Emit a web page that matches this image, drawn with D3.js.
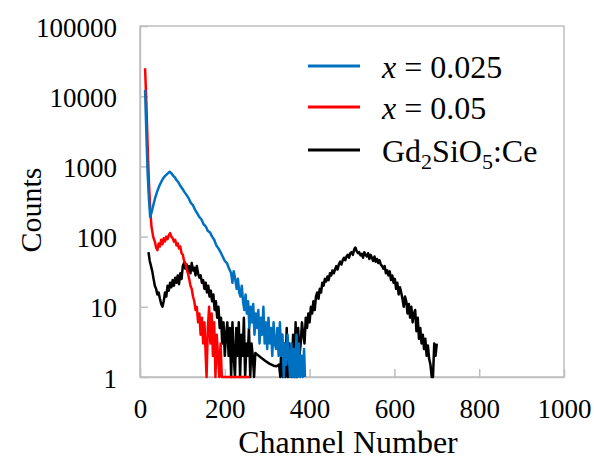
<!DOCTYPE html>
<html>
<head>
<meta charset="utf-8">
<script src="https://cdn.jsdelivr.net/npm/d3@7"></script>
<style>
  html, body { margin: 0; padding: 0; background: #fff; }
  svg text { font-family: "Liberation Serif", "Times New Roman", Times, "DejaVu Serif", serif !important; fill: #000; }
</style>
</head>
<body>
<svg id="chart" width="594" height="459"></svg>
<script>
// ---- data ----
const xTicks = [0, 200, 400, 600, 800, 1000];
const yTicks = [1, 10, 100, 1000, 10000, 100000];
const yTickLabels = ["1", "10", "100", "1000", "10000", "100000"];
const seriesNames = ["x = 0.025", "x = 0.05", "Gd2SiO5:Ce"];

const blueCh = [12,15,18,21,24,28,32,36,40,45,50,55,60,65,70,74,78,82,86,90,95,100,105,110,115,120,125,130,135,140,145,150,155,160,165,170,175,180,185,190,195,200,205,210,215,218,221,225,228,231,234,237,240,243,246,249,252,255,258,261,264,267,270,273,276,279,282,285,288,291,294,297,300,303,306,309,312,315,318,321,324,327,330,333,336,339,342,345,348,351,354,357,360,363,366,369,372,375,378,381,384,387,389];
const blueCounts = [12300,3000,800,350,190,230,290,360,430,520,600,680,740,790,840,800,740,700,640,600,530,480,430,390,350,300,280,240,215,190,175,150,140,120,115,100,90,75,68,60,52,45,42,35,30,22,32,24,18,25,16,14,20,12,9,15,8,12,5,10,6,11,4,8,5,9,3,7,4,10,3,6,2.5,7,3,5,2,6,3,2.5,5,2,6,2,4,1,3,1.5,4,2,1,3,1,2.5,1,4,1,3,1,2,1,2.5,1];

const redCh = [12,15,18,21,24,27,31,35,38,41,44,47,50,53,56,59,62,65,68,71,74,77,80,83,86,89,92,95,98,101,104,107,110,113,116,119,122,125,128,131,134,137,140,143,146,149,152,155,157,160,163,166,169,172,175,178,181,184,187,190,193,196,220,240,259];
const redCounts = [25000,8000,2000,600,250,140,100,85,70,64,80,72,90,78,95,85,100,92,105,112,100,95,85,90,75,80,68,72,58,55,45,42,35,30,25,20,18,14,12,9,10,6,8,4,7,3,6,2,1,5,10,3,8,2,6,1,4,2,1,3,1,1,1,1,1];

const blackCh = [20,23,26,29,32,35,38,41,44,47,50,53,56,59,62,65,68,71,74,77,80,83,86,89,92,95,98,101,104,107,110,113,116,119,122,125,128,131,134,137,140,143,146,149,152,155,158,161,164,167,170,173,176,179,182,185,188,191,194,197,200,203,206,209,212,215,218,221,224,227,230,233,236,239,242,245,248,251,254,257,260,263,266,269,272,276,285,295,305,315,322,328,331,334,337,340,343,346,349,352,355,358,361,364,367,370,373,376,379,382,385,388,391,394,397,400,403,406,409,412,415,418,421,424,427,430,433,436,439,442,445,448,451,454,457,460,463,466,469,472,475,478,481,484,487,490,493,496,499,502,505,508,511,514,517,520,523,526,529,532,535,538,541,544,547,550,553,556,559,562,565,568,571,574,577,580,583,586,589,592,595,598,601,604,607,610,613,616,619,622,625,628,631,634,637,640,643,646,649,652,655,658,661,664,667,670,673,676,679,682,685,688,691,694,697,700];
const blackCounts = [60,45,38,32,25,20,18,15,16,13,11,10,12,16,14,20,17,22,19,24,20,26,22,28,21,30,25,38,42,35,40,32,38,30,42,33,36,28,38,30,26,28,22,24,18,22,16,20,14,17,12,15,9,12,7,10,5,7,3,6,2,4,6,2,5,1,6,2,1,5,2,6,1,4,2,7,1,3,2,5,1,3,2,1,2.2,2.1,1.9,1.7,1.55,1.45,1.42,1.5,1,4,1,3,1,5,1,3,2,1,4,1,6,1,5,2,3,6,4,3,7,5,8,6,10,8,12,9,14,16,13,18,16,22,20,25,23,27,24,30,28,33,30,34,38,34,40,44,40,46,50,46,52,55,50,58,60,55,65,70,62,58,60,54,57,50,60,55,52,58,48,55,50,45,52,44,48,42,46,40,38,35,38,30,33,28,32,24,28,22,25,18,22,15,19,16,13,10,14,12,8,11,7,10,6,8,9,4.5,7,3.5,5,3,4,2.5,3.5,2,2.8,1.8,1.5,1,1,3,2,3];

const colors = ["#0070C0", "#FF0000", "#000000"];
const FONT = '"Liberation Serif", "Times New Roman", Times, "DejaVu Serif", serif';

// ---- layout ----
const svg = d3.select("#chart");
const pLeft = 140, pRight = 564, pTop = 26, pBottom = 377;

const x = d3.scaleLinear().domain([0, 1000]).range([pLeft, pRight]);
const y = d3.scaleLog().domain([1, 100000]).range([pBottom, pTop]);

// frame
svg.append("rect")
  .attr("x", pLeft).attr("y", pTop)
  .attr("width", pRight - pLeft).attr("height", pBottom - pTop)
  .attr("fill", "none").attr("stroke", "#BFBFBF").attr("stroke-width", 1.5);

// x axis (ticks inward)
const xAxis = d3.axisBottom(x).tickValues(xTicks).tickFormat(d3.format("d")).tickSize(-8).tickSizeOuter(0);
const gx = svg.append("g").attr("transform", `translate(0,${pBottom})`).call(xAxis)
  .attr("font-family", FONT);
gx.select(".domain").attr("stroke", "#BFBFBF").attr("stroke-width", 1.5);
gx.selectAll(".tick line").attr("stroke", "#BFBFBF").attr("stroke-width", 1.5);
gx.selectAll(".tick text")
  .style("font-size", "27px").attr("fill", "#000").attr("dy", "0").attr("y", 41);

// y axis (ticks inward)
const yAxis = d3.axisLeft(y).tickValues(yTicks).tickFormat((d, i) => yTickLabels[i]).tickSize(-8).tickSizeOuter(0);
const gy = svg.append("g").attr("transform", `translate(${pLeft},0)`).call(yAxis)
  .attr("font-family", FONT);
gy.select(".domain").attr("stroke", "#BFBFBF").attr("stroke-width", 1.5);
gy.selectAll(".tick line").attr("stroke", "#BFBFBF").attr("stroke-width", 1.5);
gy.selectAll(".tick text")
  .style("font-size", "27px").attr("fill", "#000").attr("x", -23).attr("dy", "10");

// series
const series = [
  {ch: blueCh, v: blueCounts},
  {ch: redCh, v: redCounts},
  {ch: blackCh, v: blackCounts}
];
const line = d3.line().x(d => x(d[0])).y(d => y(Math.max(1, d[1])));
const drawOrder = [2, 1, 0];
drawOrder.forEach(i => {
  const s = series[i];
  const pts = s.ch.map((c, j) => [c, s.v[j]]);
  svg.append("path").datum(pts)
    .attr("d", line)
    .attr("fill", "none")
    .attr("stroke", colors[i])
    .attr("stroke-width", 2.5)
    .attr("stroke-linejoin", "round");
});

// legend
const legY = [66, 107, 150];
const leg = svg.append("g").attr("font-family", FONT);
seriesNames.forEach((name, i) => {
  leg.append("line")
    .attr("x1", 308).attr("x2", 360)
    .attr("y1", legY[i]).attr("y2", legY[i])
    .attr("stroke", colors[i]).attr("stroke-width", 3);
  const t = leg.append("text").attr("x", 382).attr("y", legY[i] + 12).style("font-size", "32px");
  if (i < 2) {
    t.append("tspan").style("font-style", "italic").text("x");
    t.append("tspan").text(name.slice(1));
  } else {
    t.append("tspan").text("Gd");
    t.append("tspan").attr("dy", 7).style("font-size", "22px").text("2");
    t.append("tspan").attr("dy", -7).text("SiO");
    t.append("tspan").attr("dy", 7).style("font-size", "22px").text("5");
    t.append("tspan").attr("dy", -7).text(":Ce");
  }
});

// axis titles
svg.append("text")
  .attr("x", 348).attr("y", 453)
  .attr("text-anchor", "middle")
  .attr("font-family", FONT)
  .style("font-size", "32px")
  .text("Channel Number");

svg.append("text")
  .attr("transform", "translate(41,210) rotate(-90)")
  .attr("text-anchor", "middle")
  .attr("font-family", FONT)
  .style("font-size", "30px")
  .text("Counts");
</script>
</body>
</html>
